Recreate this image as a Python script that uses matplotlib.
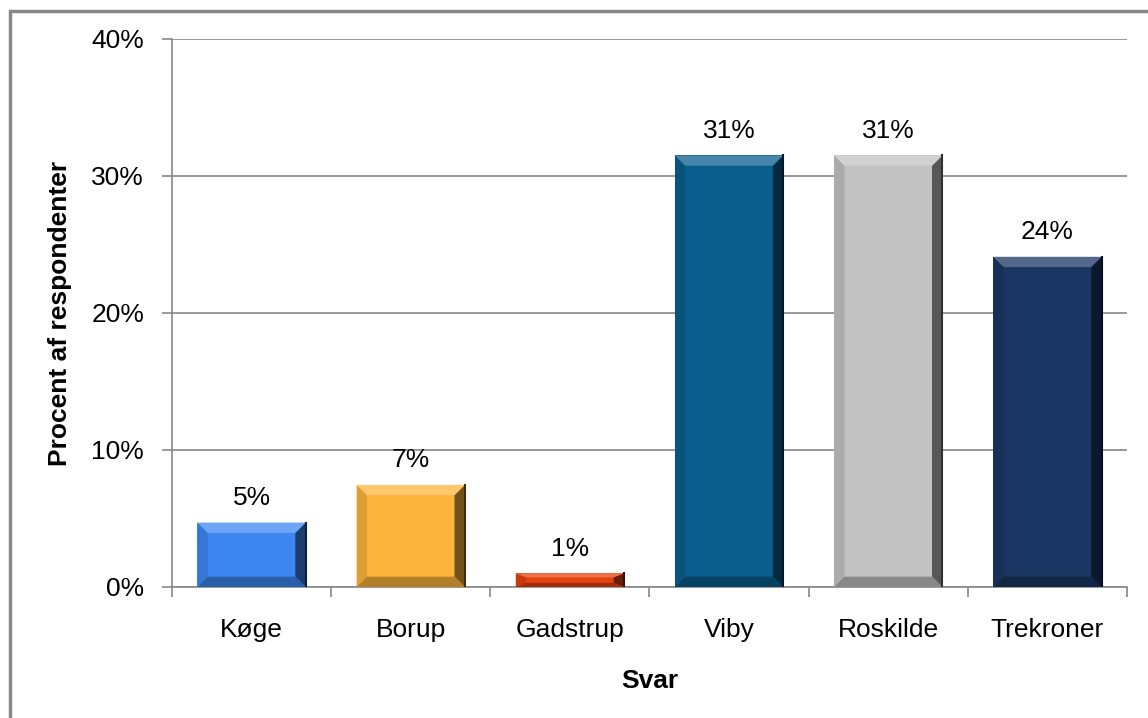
import matplotlib.pyplot as plt
from matplotlib.colors import to_rgb
from matplotlib.patches import Rectangle
import numpy as np

plt.rcParams["font.family"] = ["Liberation Sans", "DejaVu Sans"]

# data
categories = ["Køge", "Borup", "Gadstrup", "Viby", "Roskilde", "Trekroner"]
values = [4.7, 7.45, 1.0, 31.5, 31.5, 24.1]
labels = ["5%", "7%", "1%", "31%", "31%", "24%"]
colors = ["#3d87f2", "#fdb43c", "#e4420f", "#0a5e8e", "#c2c2c2", "#1a3663"]


def shade(c, f):
    r = np.array(to_rgb(c))
    if f > 0:
        return tuple(r + (1 - r) * f)
    return tuple(r * (1 + f))


fig = plt.figure(figsize=(11.48, 7.18), dpi=100)
ax = fig.add_axes([0.1498, 0.1825, 0.9817 - 0.1498, 0.9457 - 0.1825])

x = np.arange(len(categories))
bars = ax.bar(x, values, width=0.68, color=colors, zorder=3)

# bevel effect around each bar
bx = 0.065   # horizontal bevel (category units)
for b, c in zip(bars, colors):
    x0, w, h = b.get_x(), b.get_width(), b.get_height()
    x1 = x0 + w
    by = min(0.75, h * 0.3)
    top = [(x0, h), (x1, h), (x1 - bx, h - by), (x0 + bx, h - by)]
    bot = [(x0, 0), (x1, 0), (x1 - bx, by), (x0 + bx, by)]
    lft = [(x0, 0), (x0, h), (x0 + bx, h - by), (x0 + bx, by)]
    rgt = [(x1, 0), (x1, h), (x1 - bx, h - by), (x1 - bx, by)]
    ax.fill(*zip(*lft), color=shade(c, -0.12), lw=0, zorder=4)
    ax.fill(*zip(*rgt), color=shade(c, -0.55), lw=0, zorder=4)
    ax.fill(*zip(*bot), color=shade(c, -0.3), lw=0, zorder=5)
    ax.fill(*zip(*top), color=shade(c, 0.25), lw=0, zorder=5)
    ax.plot([x1, x1], [0, h], color=shade(c, -0.75), lw=1.5, zorder=6)

for xi, v, t in zip(x, values, labels):
    ax.annotate(t, (xi, v), xytext=(0, 9), textcoords="offset points",
                ha="center", va="bottom", fontsize=19, zorder=7)

ax.set_xlim(-0.5, len(categories) - 0.5)
ax.set_ylim(0, 40)
ax.set_yticks([0, 10, 20, 30, 40])
ax.set_yticklabels(["0%", "10%", "20%", "30%", "40%"], fontsize=19)
ax.set_xticks(x)
ax.set_xticklabels(categories, fontsize=19)
ax.set_xticks(np.arange(len(categories) + 1) - 0.5, minor=True)
ax.tick_params(axis="x", which="major", length=0, pad=22)
ax.tick_params(axis="x", which="minor", length=7, color="#888888", width=1.2)
ax.tick_params(axis="y", length=7, color="#888888", width=1.2, pad=13)

ax.grid(axis="y", color="#888888", lw=1.2, zorder=0)
for s in ["top", "right"]:
    ax.spines[s].set_visible(False)
for s in ["left", "bottom"]:
    ax.spines[s].set_color("#888888")
    ax.spines[s].set_linewidth(1.2)

ax.set_xlabel("Svar", fontsize=19, fontweight="bold", labelpad=20)
ax.set_ylabel("Procent af respondenter", fontsize=19, fontweight="bold", labelpad=14)

# outer chart frame (only left and top visible in the reference)
fig.patches.append(Rectangle((10 / 1148, -0.1), 1.2, (718 - 11) / 718 + 0.1,
                             transform=fig.transFigure, fill=False,
                             edgecolor="#888888", lw=2.5))

plt.savefig("out.png", dpi=100)
